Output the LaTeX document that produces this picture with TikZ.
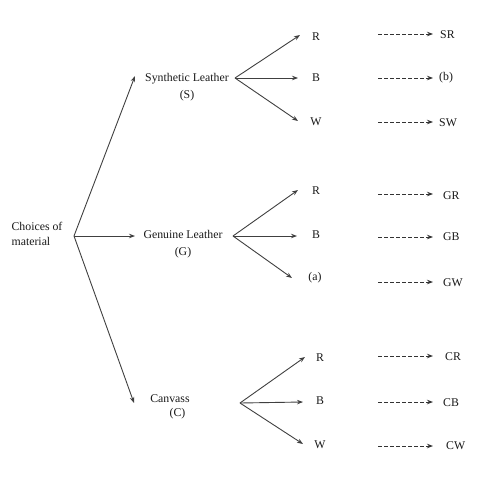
\documentclass[tikz,border=0pt]{standalone}
\usepackage{fontspec}
\setmainfont{Liberation Serif}
\usetikzlibrary{arrows.meta}
\begin{document}
\begin{tikzpicture}[x=1pt,y=-1pt,
  lbl/.style={inner sep=0pt,font=\fontsize{11.8}{14.5}\selectfont,text=black!90},
  lbltwo/.style={lbl,font=\fontsize{11.8}{17.5}\selectfont,align=center},
  arr/.style={draw=black!75,line width=0.9pt,-{Stealth[length=6pt,width=4.5pt]}},
  darr/.style={draw=black!80,line width=1pt,dash pattern=on 3.5pt off 2.5pt,-{Stealth[length=6pt,width=4.5pt]}}]
\useasboundingbox (0,0) rectangle (498,480);
% root
\node[lbl,align=left] (root) at (37,234) {Choices of\\material};
\coordinate (r0) at (74,236);
% level 1
\node[lbltwo] (S) at (187,87) {Synthetic Leather\\(S)};
\node[lbltwo] (G) at (183,244) {Genuine Leather\\(G)};
\node[lbl,align=center] (C) at (170,407) {Canvass\\\hspace*{15pt}(C)};
\coordinate (tS) at (135,76);
\coordinate (tG) at (135,236);
\coordinate (tC) at (134,403);
\draw[arr] (r0) -- (tS);
\draw[arr] (r0) -- (tG);
\draw[arr] (r0) -- (tC);
% branch points
\coordinate (bS) at (235,78);
\coordinate (bG) at (233,236);
\coordinate (bC) at (240,403);
% S children
\node[lbl] (SR) at (316,37) {R};
\node[lbl] (SB) at (316,78) {B};
\node[lbl] (SW) at (316,122) {W};
\coordinate (tSR) at (300,35);
\coordinate (tSB) at (298,78);
\coordinate (tSW) at (298,121);
\draw[arr] (bS) -- (tSR);
\draw[arr] (bS) -- (tSB);
\draw[arr] (bS) -- (tSW);
% G children
\node[lbl] (GR) at (316,191) {R};
\node[lbl] (GB) at (316,235) {B};
\node[lbl] (GW) at (315,278) {(a)};
\coordinate (tGR) at (298,190);
\coordinate (tGB) at (297,236);
\coordinate (tGW) at (292,278);
\draw[arr] (bG) -- (tGR);
\draw[arr] (bG) -- (tGB);
\draw[arr] (bG) -- (tGW);
% C children
\node[lbl] (CR) at (320,358) {R};
\node[lbl] (CB) at (320,401) {B};
\node[lbl] (CW) at (320,445) {W};
\coordinate (tCR) at (305,357);
\coordinate (tCB) at (303,402);
\coordinate (tCW) at (303,444);
\draw[arr] (bC) -- (tCR);
\draw[arr] (bC) -- (tCB);
\draw[arr] (bC) -- (tCW);
% outcomes
\node[lbl,anchor=west] (oSR) at (440,35) {SR};
\node[lbl,anchor=west] (oSB) at (439,78) {(b)};
\node[lbl,anchor=west] (oSW) at (439,123) {SW};
\node[lbl,anchor=west] (oGR) at (443,196) {GR};
\node[lbl,anchor=west] (oGB) at (443,237) {GB};
\node[lbl,anchor=west] (oGW) at (443,283) {GW};
\node[lbl,anchor=west] (oCR) at (445,357) {CR};
\node[lbl,anchor=west] (oCB) at (443,403) {CB};
\node[lbl,anchor=west] (oCW) at (446,446) {CW};
\foreach \n/\y in {SR/34,SB/78,SW/122,GR/194,GB/237,GW/282,CR/356,CB/402,CW/446}{
  \coordinate (d\n) at (378,\y);
  \coordinate (e\n) at (433,\y);
  \draw[darr] (d\n) -- (e\n);
}
\end{tikzpicture}
\end{document}
